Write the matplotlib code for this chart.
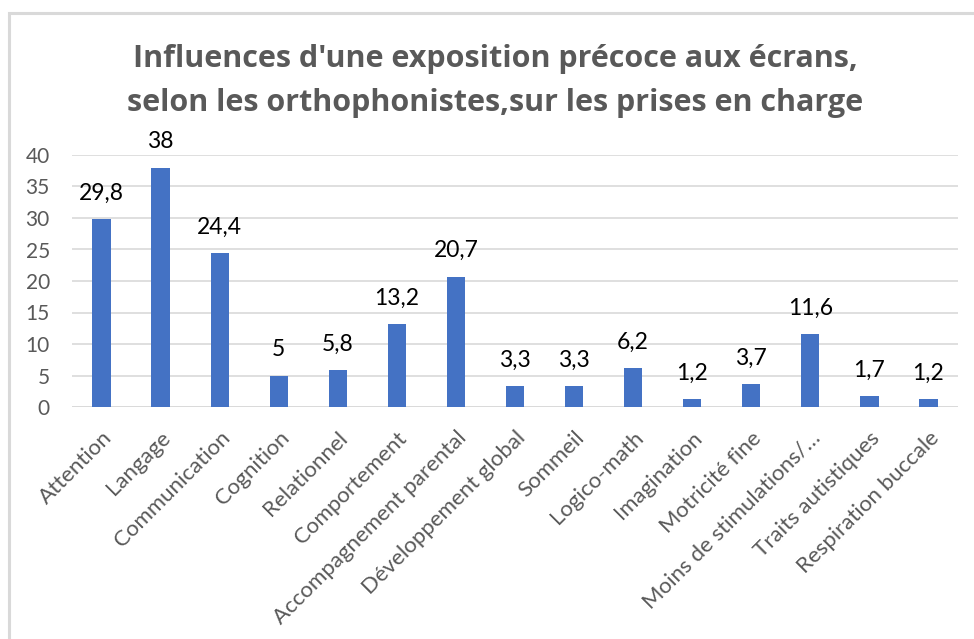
import matplotlib
matplotlib.use("Agg")
import matplotlib.pyplot as plt
from matplotlib.patches import Rectangle

categories = ["Attention", "Langage", "Communication", "Cognition", "Relationnel",
              "Comportement", "Accompagnement parental", "Développement global",
              "Sommeil", "Logico-math", "Imagination", "Motricité fine",
              "Moins de stimulations/…", "Traits autistiques", "Respiration buccale"]
values = [29.8, 38, 24.4, 5, 5.8, 13.2, 20.7, 3.3, 3.3, 6.2, 1.2, 3.7, 11.6, 1.7, 1.2]
value_labels = ["29,8", "38", "24,4", "5", "5,8", "13,2", "20,7", "3,3", "3,3",
                "6,2", "1,2", "3,7", "11,6", "1,7", "1,2"]
yticks = [0, 5, 10, 15, 20, 25, 30, 35, 40]
title_lines = ["Influences d'une exposition précoce aux écrans,",
               "selon les orthophonistes,sur les prises en charge"]

FONT = ["Lato", "DejaVu Sans"]
W, H = 974, 639
fig = plt.figure(figsize=(W / 100, H / 100), dpi=100)
fig.patch.set_facecolor("white")

# outer chart border (light gray), cropped on right/bottom
fig.add_artist(Rectangle((8.5 / W, -0.05), 1.2, 1 - 12.5 / H + 0.05,
                         transform=fig.transFigure, fill=False,
                         edgecolor="#d9d9d9", linewidth=2.2))

ax = fig.add_axes([72 / W, 1 - 407 / H, (958 - 72) / W, (407 - 155) / H])
x = list(range(len(categories)))
ax.bar(x, values, width=0.31, color="#4472C4", zorder=3)
ax.set_xlim(-0.5, len(categories) - 0.5)
ax.set_ylim(0, 40)
ax.set_yticks(yticks)
ax.set_yticklabels([str(t) for t in yticks], fontsize=15, color="#595959",
                   family=FONT)
ax.tick_params(axis="y", length=0, pad=16)
ax.tick_params(axis="x", length=0, pad=15)
ax.set_xticks(x)
ax.set_xticklabels(categories, rotation=45, ha="right", rotation_mode="anchor",
                   fontsize=16, color="#595959", family=FONT)
ax.yaxis.grid(True, color="#d9d9d9", linewidth=1.2, zorder=0)
for s in ax.spines.values():
    s.set_visible(False)
ax.axhline(0, color="#d9d9d9", linewidth=1.2, zorder=2)

for xi, v, lab in zip(x, values, value_labels):
    ax.annotate(lab, (xi, v), xytext=(0, 11), textcoords="offset points",
                ha="center", va="bottom", fontsize=16.5, color="black",
                family=FONT)

for line, ybase in zip(title_lines, [67, 111]):
    fig.text(495 / W, 1 - ybase / H, line, ha="center", va="baseline",
             fontsize=22, fontweight="bold", color="#595959",
             family=["Open Sans", "DejaVu Sans"])

fig.savefig("out.png", dpi=100)
